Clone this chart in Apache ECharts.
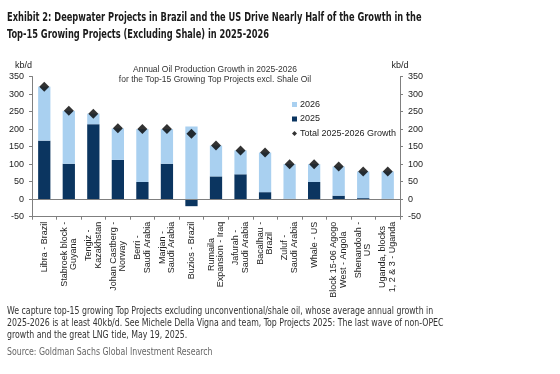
<!DOCTYPE html>
<html><head><meta charset="utf-8">
<script src="https://cdn.jsdelivr.net/npm/echarts@6/dist/echarts.min.js"></script>
<style>html,body{margin:0;padding:0;background:#fff}#c{width:560px;height:374px}</style>
</head><body><div id="c"></div>
<script>
const categories = [
  "Libra - Brazil",
  "Stabroek block -\nGuyana",
  "Tengiz -\nKazakhstan",
  "Johan Castberg -\nNorway",
  "Berri -\nSaudi Arabia",
  "Marjan -\nSaudi Arabia",
  "Buzios - Brazil",
  "Rumaila\nExpansion - Iraq",
  "Jafurah -\nSaudi Arabia",
  "Bacalhau -\nBrazil",
  "Zuluf -\nSaudi Arabia",
  "Whale - US",
  "Block 15-06 Agogo\nWest - Angola",
  "Shenandoah -\nUS",
  "Uganda, blocks\n1, 2 & 3 - Uganda"
];
const growth2025 = [167, 101, 214, 112, 49, 101, -20, 65, 71, 20, 1, 49, 10, 3, 1];
const growth2026 = [154, 151, 30, 90, 151, 99, 207, 88, 68, 113, 99, 51, 83, 76, 78];
const total = [321, 252, 244, 202, 200, 200, 187, 153, 139, 133, 100, 100, 93, 79, 79];
const yTicks = { min: -50, max: 350, interval: 50 };

const DARK = '#0b3560', LIGHT = '#a9d0f0';
const chart = echarts.init(document.getElementById('c'), null, { renderer: 'canvas' });
const axisBase = {
  type: 'value', min: yTicks.min, max: yTicks.max, interval: yTicks.interval,
  axisLine: { show: true, lineStyle: { color: '#7f7f7f', width: 1 } },
  axisTick: { show: true, length: 3, lineStyle: { color: '#7f7f7f' } },
  splitLine: { show: false },
  axisLabel: { color: '#222', fontSize: 9, fontFamily: 'Liberation Sans', margin: 8 },
  name: 'kb/d', nameGap: 6,
  nameTextStyle: { color: '#222', fontSize: 9, fontFamily: 'Liberation Sans' }
};
chart.setOption({
  animation: false,
  textStyle: { fontFamily: 'Liberation Sans' },
  grid: { left: 32, right: 160, top: 76.5, bottom: 157.3, containLabel: false },
  legend: {
    orient: 'vertical', left: 287, top: 95, itemWidth: 5, itemHeight: 5, itemGap: 5.5,
    textStyle: { color: '#222', fontSize: 9, fontFamily: 'Liberation Sans', padding: [0, 0, 0, -2] },
    data: [
      { name: '2026', icon: 'rect' },
      { name: '2025', icon: 'rect' },
      { name: 'Total 2025-2026 Growth', icon: 'diamond' }
    ]
  },
  xAxis: {
    type: 'category', data: categories,
    axisLine: { onZero: false, lineStyle: { color: '#7f7f7f' } },
    axisTick: { show: true, length: 3, alignWithLabel: false, lineStyle: { color: '#7f7f7f' } },
    axisLabel: {
      rotate: 90, interval: 0, margin: 5, color: '#222', fontSize: 9, fontFamily: 'Liberation Sans',
      lineHeight: 9.5,
      formatter: v => v.split('\n').map(l => '{c|' + l + '}').join('\n'),
      rich: { c: { align: 'center', fontSize: 9, lineHeight: 9.5, color: '#222', fontFamily: 'Liberation Sans' } }
    }
  },
  yAxis: [
    Object.assign({}, axisBase, { position: 'left', nameTextStyle: Object.assign({}, axisBase.nameTextStyle, { align: 'right' }) }),
    Object.assign({}, axisBase, { position: 'right', nameTextStyle: Object.assign({}, axisBase.nameTextStyle, { align: 'center' }) })
  ],
  series: [
    {
      name: '2025', type: 'bar', stack: 'g', data: growth2025, barWidth: '50%',
      itemStyle: { color: DARK },
      markLine: {
        silent: true, symbol: 'none', label: { show: false },
        lineStyle: { color: '#7f7f7f', type: 'solid', width: 1 },
        data: [{ yAxis: 0 }]
      }
    },
    { name: '2026', type: 'bar', stack: 'g', data: growth2026, barWidth: '50%', itemStyle: { color: LIGHT } },
    {
      name: 'Total 2025-2026 Growth', type: 'scatter', data: total, symbol: 'diamond',
      symbolSize: [10, 10], itemStyle: { color: '#000' }, z: 5
    }
  ],
  graphic: [
    { type: 'text', x: 7, y: 10, scaleX: 0.8, style: { text: 'Exhibit 2: Deepwater Projects in Brazil and the US Drive Nearly Half of the Growth in the\nTop-15 Growing Projects (Excluding Shale) in 2025-2026', font: 'bold 11.5px "DejaVu Sans Condensed", sans-serif', fill: '#1a1a1a', lineHeight: 17 } },
    { type: 'text', x: 215, y: 64, style: { text: 'Annual Oil Production Growth in 2025-2026\nfor the Top-15 Growing Top Projects excl. Shale Oil', font: '8.5px "Liberation Sans"', fill: '#333', align: 'center', lineHeight: 10.5 } },
    { type: 'text', x: 7, y: 306, scaleX: 0.87, style: { text: 'We capture top-15 growing Top Projects excluding unconventional/shale oil, whose average annual growth in\n2025-2026 is at least 40kb/d. See Michele Della Vigna and team, Top Projects 2025: The last wave of non-OPEC\ngrowth and the great LNG tide, May 19, 2025.', font: '10px "DejaVu Sans Condensed", sans-serif', fill: '#333', lineHeight: 11.7 } },
    { type: 'text', x: 7, y: 347, scaleX: 0.87, style: { text: 'Source: Goldman Sachs Global Investment Research', font: '10px "DejaVu Sans Condensed", sans-serif', fill: '#666' } }
  ]
});
</script></body></html>
